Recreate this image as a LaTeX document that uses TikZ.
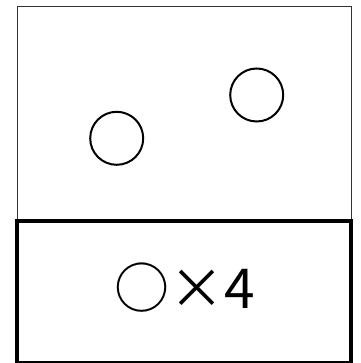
\documentclass[tikz,border=0pt]{standalone}
\usepackage{fontspec}
\newfontfamily\jpfont{Noto Sans CJK JP}
\usetikzlibrary{positioning}

\begin{document}
\begin{tikzpicture}[x=1pt,y=-1pt,
    dot/.style={circle,draw,line width=2pt,minimum size=53pt,inner sep=0pt}]
    \useasboundingbox (0,0) rectangle (360,363);
    % upper panel
    \draw[line width=1pt,black!80] (17,7) rectangle (351,221);
    \node[dot] (dotleft) at (116.7,138.3) {};
    \node[dot] (dotright) at (256.7,95) {};
    % lower panel
    \draw[line width=4.5pt] (17,221) rectangle (351,363);
    \node[font=\jpfont\fontsize{55}{55}\selectfont,anchor=base] (count) at (185,308) {○×4};
  \end{tikzpicture}
\end{document}
